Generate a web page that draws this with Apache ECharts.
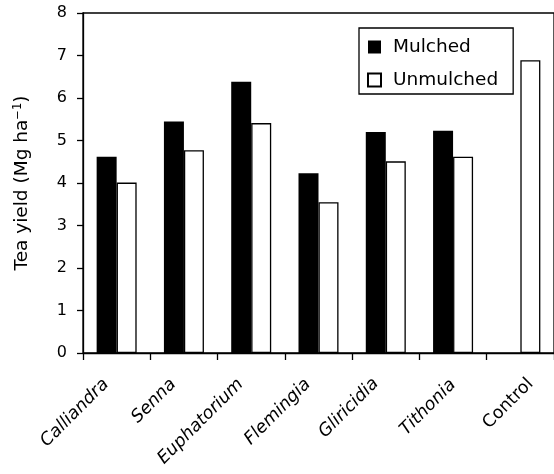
<!DOCTYPE html>
<html>
<head>
<meta charset="utf-8">
<script src="https://cdn.jsdelivr.net/npm/echarts@6/dist/echarts.min.js"></script>
<style>html,body{margin:0;padding:0;background:#fff;}#c{width:554px;height:474px;}</style>
</head>
<body>
<div id="c"></div>
<script>
var categories = ['Calliandra', 'Senna', 'Euphatorium', 'Flemingia', 'Gliricidia', 'Tithonia', 'Control'];
var italicCats = [true, true, true, true, true, true, false];
var mulched = [4.62, 5.45, 6.38, 4.23, 5.20, 5.23, null];
var unmulched = [4.01, 4.77, 5.41, 3.55, 4.51, 4.62, 6.89];
var yTicks = [0, 1, 2, 3, 4, 5, 6, 7, 8];
var seriesNames = ['Mulched', 'Unmulched'];

var FONT = 'DejaVu Sans, Liberation Sans, Arial, sans-serif';
// label placement styling of the original figure (rich-text padding per label)
var labelPad = [[0, 15, 0, 0], [0, 15, 0, 0], [0, 15, 0, 0], [0, 15, 0, 0], [0, 14, 0, 0], [16, 8, 0, 0], [29, 0, 0, 0]];
var rich = {};
categories.forEach(function (c, i) {
  rich['c' + i] = {fontSize: 17.5, fontFamily: FONT, color: '#000',
    fontStyle: italicCats[i] ? 'italic' : 'normal', padding: labelPad[i]};
});
var chart = echarts.init(document.getElementById('c'), null, {renderer: 'canvas'});
chart.setOption({
  animation: false,
  backgroundColor: '#fff',
  textStyle: {fontFamily: FONT, color: '#000'},
  grid: {left: 83, right: 0, top: 13, bottom: 121, show: true, borderColor: '#000', borderWidth: 1.3, containLabel: false},
  legend: {
    orient: 'vertical', left: 359, top: 28,
    data: seriesNames, icon: 'rect', itemWidth: 13, itemHeight: 13, itemGap: 13,
    borderColor: '#000', borderWidth: 1.3, padding: [9, 15, 4, 8],
    textStyle: {fontFamily: FONT, fontSize: 18.5, color: '#000', lineHeight: 20, padding: [0, 0, 0, 7]}
  },
  xAxis: {
    type: 'category',
    data: categories,
    axisLine: {lineStyle: {color: '#000', width: 1.3}},
    axisTick: {show: true, length: 7, lineStyle: {color: '#000', width: 1.3}},
    axisLabel: {rotate: 45, interval: 0, fontSize: 17.5, color: '#000', fontFamily: FONT, margin: 18,
      formatter: function (v, i) { return '{c' + i + '|' + v + '}'; }, rich: rich}
  },
  yAxis: {
    type: 'value', min: yTicks[0], max: yTicks[yTicks.length - 1], interval: 1,
    name: '{a|Tea yield (Mg ha}{s|−1}{a|)}',
    nameLocation: 'middle', nameRotate: 90, nameGap: 51,
    nameTextStyle: {rich: {
      a: {fontSize: 18.5, fontFamily: FONT, color: '#000'},
      s: {fontSize: 11.5, fontFamily: FONT, color: '#000', verticalAlign: 'top', padding: [0, 0, 8, 0]}
    }},
    splitLine: {show: false},
    axisLine: {show: true, lineStyle: {color: '#000', width: 1.3}},
    axisTick: {show: true, length: 6, lineStyle: {color: '#000', width: 1.3}},
    axisLabel: {fontSize: 16, color: '#000', fontFamily: FONT, margin: 16}
  },
  series: [
    {name: seriesNames[0], type: 'bar', data: mulched, barWidth: 20, barGap: '0%',
     itemStyle: {color: '#000', borderColor: '#000', borderWidth: 0}},
    {name: seriesNames[1], type: 'bar', data: unmulched, barWidth: 20, barGap: '0%',
     itemStyle: {color: '#fff', borderColor: '#000', borderWidth: 1.3}}
  ]
});
</script>
</body>
</html>
